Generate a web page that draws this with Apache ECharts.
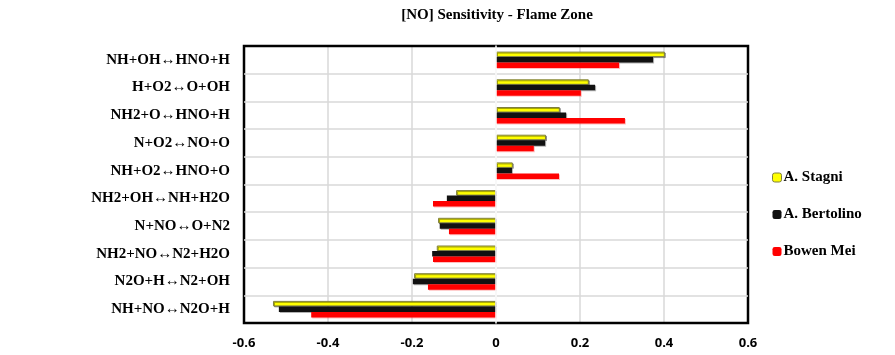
<!DOCTYPE html>
<html><head><meta charset="utf-8">
<script src="https://cdn.jsdelivr.net/npm/echarts@6/dist/echarts.min.js"></script>
<style>html,body{margin:0;padding:0;background:#fff}#c{width:895px;height:355px}</style>
</head><body><div id="c"></div>
<script>
const categories = ["NH+OH\u2194HNO+H","H+O2\u2194O+OH","NH2+O\u2194HNO+H","N+O2\u2194NO+O","NH+O2\u2194HNO+O","NH2+OH\u2194NH+H2O","N+NO\u2194O+N2","NH2+NO\u2194N2+H2O","N2O+H\u2194N2+OH","NH+NO\u2194N2O+H"];
const stagni = [0.402,0.221,0.152,0.119,0.040,-0.095,-0.138,-0.141,-0.195,-0.531];
const bertolino = [0.374,0.236,0.167,0.117,0.038,-0.117,-0.134,-0.152,-0.198,-0.517];
const mei = [0.293,0.202,0.307,0.090,0.150,-0.150,-0.112,-0.150,-0.162,-0.440];
const xTicks = [-0.6,-0.4,-0.2,0,0.2,0.4,0.6];

const chart = echarts.init(document.getElementById('c'));
const serif = '"Liberation Serif","DejaVu Serif",serif';
const G = {left:244,right:147,top:46,bottom:32};
chart.setOption({
  animation:false,
  title:{text:'[NO] Sensitivity - Flame Zone',left:492,top:3,textAlign:'center',
    textStyle:{fontFamily:serif,fontWeight:'bold',fontSize:15,color:'#000'}},
  grid:{left:G.left,right:G.right,top:G.top,bottom:G.bottom},
  graphic:[{type:'rect',z:100,silent:true,
    shape:{x:G.left,y:G.top,width:895-G.left-G.right,height:355-G.top-G.bottom},
    style:{fill:'none',stroke:'#000',lineWidth:2.5}}],
  legend:{orient:'vertical',left:772,top:170,padding:0,itemWidth:9,itemHeight:9,itemGap:22,
    textStyle:{fontFamily:serif,fontWeight:'bold',fontSize:15,color:'#000',padding:[0,0,0,-3]},
    data:[{name:'A. Stagni',itemStyle:{color:'#ffff00',borderColor:'#7f7f3f',borderWidth:1}},
          {name:'A. Bertolino',itemStyle:{color:'#111'}},
          {name:'Bowen Mei',itemStyle:{color:'#ff0000'}}]},
  xAxis:{type:'value',min:-0.6,max:0.6,interval:0.2,
    axisLine:{show:false},axisTick:{show:false},
    splitLine:{lineStyle:{color:'#d9d9d9',width:1.5}},
    axisLabel:{fontFamily:'"Open Sans","Liberation Sans",sans-serif',fontWeight:'bold',fontSize:13,color:'#000',margin:14,
      formatter:v=>{const t=xTicks.find(x=>Math.abs(x-v)<1e-9);return t===undefined?'':String(t);}}},
  yAxis:{type:'category',data:categories,inverse:true,z:101,
    axisLine:{show:true,onZero:true,lineStyle:{color:'#fff',width:1.5}},
    axisTick:{show:false},
    splitLine:{show:true,showMinLine:false,showMaxLine:false,lineStyle:{color:'#d9d9d9',width:1.5}},
    axisLabel:{fontFamily:serif,fontWeight:'bold',fontSize:15,color:'#000',margin:14}},
  series:[
    {name:'A. Stagni',type:'bar',data:stagni,barWidth:5.5,barGap:'0%',
      itemStyle:{color:'#ffff00',borderColor:'#7f7f3f',borderWidth:1,shadowColor:'rgba(0,0,0,0.35)',shadowOffsetX:1,shadowOffsetY:1}},
    {name:'A. Bertolino',type:'bar',data:bertolino,barWidth:5.5,barGap:'0%',
      itemStyle:{color:'#111',shadowColor:'rgba(0,0,0,0.3)',shadowOffsetX:1,shadowOffsetY:1}},
    {name:'Bowen Mei',type:'bar',data:mei,barWidth:5.5,barGap:'0%',
      itemStyle:{color:'#ff0000',shadowColor:'rgba(255,0,0,0.25)',shadowOffsetX:1,shadowOffsetY:1}}
  ]
});
</script></body></html>
